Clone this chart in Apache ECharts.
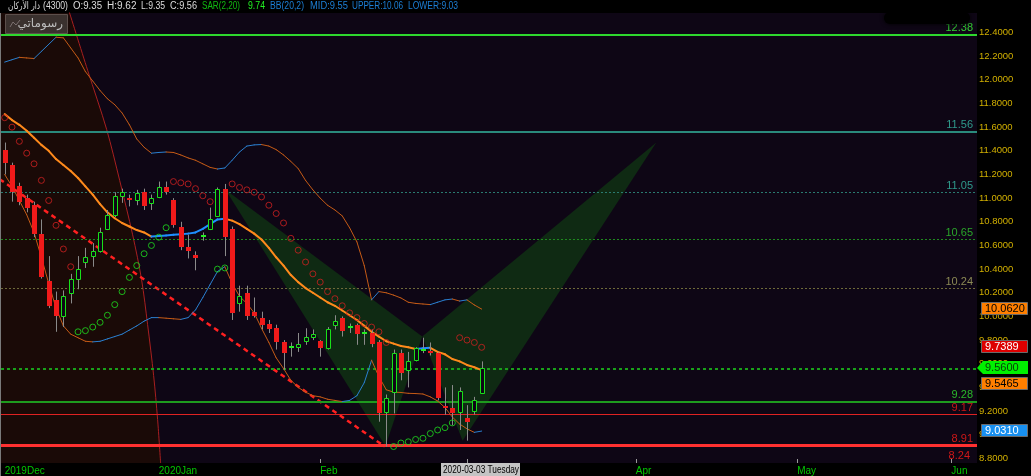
<!DOCTYPE html>
<html><head><meta charset="utf-8">
<script src="https://cdn.jsdelivr.net/npm/echarts@6/dist/echarts.min.js"></script>
<style>html,body{margin:0;padding:0;background:#000;overflow:hidden}#c{width:1031px;height:476px}</style>
</head><body><div id="c"></div>
<script>
// ---------- DATA ----------
const symbolName = 'دار الأركان';
const symbolCode = '4300';
const lastDateLabel = '2020-03-03 Tuesday';
const slotCount = 133;                      // trading-day slots Dec 3 2019 .. Jun 4 2020
const monthTickIdx = [0, 21, 43, 63, 86, 108, 129];
const monthTickLabels = ['2019Dec', '2020Jan', 'Feb', 'Mar', 'Apr', 'May', 'Jun'];
const yTicks = [8.8, 9.0, 9.2, 9.4, 9.6, 9.8, 10.0, 10.2, 10.4, 10.6, 10.8, 11.0, 11.2, 11.4, 11.6, 11.8, 12.0, 12.2, 12.4];

const open  = [11.41,11.28,11.10,11.00,10.94,10.70,10.30,10.14,10.00,10.20,10.32,10.46,10.51,10.55,10.74,10.86,11.02,11.00,10.98,11.05,10.96,11.01,11.09,10.98,10.76,10.59,10.52,10.68,10.74,10.85,11.08,10.74,10.11,10.20,10.04,9.99,9.94,9.90,9.78,9.73,9.74,9.79,9.83,9.79,9.73,9.93,9.99,9.91,9.93,9.86,9.86,9.78,9.19,9.36,9.69,9.55,9.63,9.72,9.71,9.69,9.24,9.23,9.19,9.14,9.20,9.35];
const high  = [11.47,11.30,11.13,11.03,10.97,10.82,10.51,10.21,10.22,10.36,10.51,10.58,10.62,10.75,10.90,11.05,11.08,11.03,11.07,11.08,11.03,11.14,11.14,11.00,10.80,10.69,10.55,10.71,10.92,11.09,11.12,10.76,10.26,10.26,10.16,10.04,9.97,9.93,9.80,9.78,9.86,9.90,9.89,9.80,9.91,10.01,10.00,9.94,9.94,9.89,9.89,9.80,9.34,9.72,9.72,9.70,9.74,9.82,9.78,9.70,9.40,9.42,9.40,9.25,9.32,9.62];
const low   = [11.20,10.97,10.94,10.88,10.67,10.32,10.07,9.87,9.91,10.11,10.23,10.41,10.42,10.54,10.73,10.84,10.96,10.93,10.94,10.90,10.90,11.00,11.03,10.75,10.56,10.49,10.39,10.64,10.73,10.84,10.51,9.97,10.04,9.97,9.99,9.89,9.86,9.72,9.55,9.66,9.70,9.76,9.80,9.66,9.72,9.89,9.83,9.86,9.76,9.76,9.74,9.11,8.90,9.18,9.46,9.40,9.62,9.69,9.67,9.29,9.17,9.08,9.04,8.95,9.17,9.35];
const close = [11.30,11.05,10.97,10.92,10.70,10.33,10.09,10.00,10.17,10.32,10.40,10.50,10.55,10.71,10.86,11.02,11.05,10.98,11.04,10.93,11.00,11.09,11.05,10.77,10.59,10.55,10.49,10.68,10.82,11.08,10.67,10.03,10.17,10.00,10.00,9.93,9.89,9.78,9.69,9.75,9.77,9.83,9.85,9.73,9.89,9.96,9.88,9.91,9.85,9.86,9.77,9.18,9.31,9.69,9.52,9.62,9.73,9.72,9.69,9.31,9.23,9.18,9.37,9.11,9.29,9.56];

const sar = [11.68,11.60,11.48,11.38,11.29,11.15,10.98,10.77,10.57,10.42,
  9.87,9.88,9.91,9.95,10.01,10.10,10.21,10.33,10.43,10.53,10.60,10.67,10.75,
  11.14,11.13,11.12,11.08,11.02,10.97,
  10.40,10.41,
  11.12,11.09,11.07,11.05,11.01,10.94,10.87,10.79,10.66,10.56,10.46,10.36,10.29,10.21,10.15,10.09,10.03,9.99,9.94,9.91,9.87,9.78,
  8.90,8.93,8.94,8.96,8.97,9.01,9.04,9.06,9.10,
  9.82,9.80,9.78,9.7389];

const bbMid = [11.71,11.66,11.62,11.57,11.51,11.45,11.40,11.33,11.28,11.23,
  11.17,11.10,11.03,10.95,10.88,10.83,10.79,10.76,10.73,10.71,
  10.675,10.68,10.685,10.69,10.695,10.70,10.71,10.74,10.78,10.82,
  10.825,10.81,10.78,10.74,10.70,10.65,10.58,10.50,10.43,10.35,
  10.29,10.24,10.20,10.16,10.12,10.09,10.05,10.01,9.97,9.92,
  9.87,9.83,9.79,9.77,9.75,9.74,9.725,9.73,9.735,9.70,
  9.68,9.64,9.62,9.59,9.57,9.5465];
const bbUpper = [12.15,12.17,12.19,12.185,12.18,12.24,12.30,12.36,12.355,12.27,
  12.185,12.07,11.99,11.91,11.84,11.79,11.72,11.62,11.50,11.43,
  11.38,11.386,11.39,11.386,11.365,11.34,11.32,11.29,11.26,11.246,
  11.255,11.32,11.39,11.44,11.45,11.453,11.44,11.41,11.365,11.31,
  11.25,11.15,11.07,11.00,10.94,10.90,10.85,10.75,10.63,10.43,
  10.14,10.21,10.20,10.18,10.156,10.12,10.11,10.105,10.10,10.12,
  10.14,10.147,10.13,10.14,10.097,10.062];
const bbLower = [11.20,11.10,10.98,10.86,10.71,10.50,10.28,10.07,9.92,9.85,
  9.82,9.79,9.785,9.79,9.81,9.83,9.85,9.885,9.92,9.96,
  9.99,9.99,9.985,9.98,9.975,9.99,10.055,10.16,10.27,10.38,
  10.42,10.28,10.17,10.11,10.03,9.90,9.78,9.65,9.56,9.46,
  9.40,9.36,9.33,9.32,9.30,9.29,9.28,9.29,9.33,9.44,
  9.63,9.49,9.38,9.36,9.357,9.35,9.348,9.344,9.32,9.285,
  9.23,9.15,9.09,9.05,9.02,9.031];

const levelValues = [12.38, 11.56, 11.05, 10.65, 10.24, 9.28, 9.17, 8.91];
const offscreenLevel = 8.24;
// drawings, in [slot index, price]
const trendLine = [[-0.68, 11.16], [51.8, 8.90]];
const arcLine = [[8.72,12.59],[11.31,12.08],[13.9,11.58],[15.67,11.15],[17.44,10.69],[18.66,10.31],[19.48,9.93],[20.3,9.5],[20.84,9.13],[21.25,8.76]];
const harmonicXABCD = [[30.1,11.07],[51.9,8.905],[56.9,9.83],[62.4,8.95],[88.8,11.47]];

// ---------- STYLES ----------
const levelStyles = [
  {color:'#2ed82e', width:2, type:'solid', label:'#33cc33'},
  {color:'#2a8a7c', width:2, type:'solid', label:'#2f9a8c'},
  {color:'#2a7a70', width:1, type:[2,2], label:'#2f9a8c'},
  {color:'#1f8a1f', width:1, type:[2,2], label:'#2aa52a'},
  {color:'#6e6a3a', width:1, type:[2,2], label:'#8c8a55'},
  {color:'#1e9a1e', width:2, type:'solid', label:'#2ab82a'},
  {color:'#e02222', width:1, type:'solid', label:'#c81818'},
  {color:'#ff3030', width:3, type:'solid', label:'#d01818'}
];
const PLOT_BG = '#0e0615';
const FONT = '"Liberation Sans", Arial, sans-serif';

const Y0 = 8.761, Y1 = 12.565;
const N = close.length, last = N - 1;
const cats = Array.from({length: slotCount}, (_, i) => String(i));
const labelMap = {};
monthTickIdx.forEach((k, j) => labelMap[k] = monthTickLabels[j]);

const candleData = close.map((c, i) => [i, open[i], c, low[i], high[i]]);
function segData(arr){ const r=[]; for(let i=0;i<arr.length-1;i++) r.push([i, arr[i], arr[i+1]]); return r; }
function segSeries(arr, width, up, down, z){
  return {type:'custom', xAxisIndex:1, yAxisIndex:0, z:z, clip:true, silent:true,
    data: segData(arr), encode:{x:0, y:[1,2]},
    renderItem:(p, api)=>{
      const i=api.value(0), a=api.value(1), b=api.value(2);
      const p1=api.coord([i,a]), p2=api.coord([i+1,b]);
      return {type:'line', shape:{x1:p1[0],y1:p1[1],x2:p2[0],y2:p2[1]},
        style:{stroke: b>=a?up:down, lineWidth:width, lineCap:'round'}};
    }};
}

const markData = levelValues.map((v, k) => ({
  yAxis: v,
  lineStyle: {color: levelStyles[k].color, width: levelStyles[k].width, type: levelStyles[k].type},
  label: {show:true, formatter: String(v), position:'insideEndTop', distance:[4,1], color: levelStyles[k].label, fontSize:11, fontFamily:FONT}
}));
markData.push({yAxis: close[last], lineStyle:{color:'#1aa01a', width:2, type:[3,3]}, label:{show:false}});

const option = {
  backgroundColor: '#000',
  animation: false,
  grid: {left:1, top:13, width:976, height:450, show:true, backgroundColor:PLOT_BG, borderWidth:0},
  xAxis: [
    {type:'category', data:cats, boundaryGap:true, axisLine:{show:false}, splitLine:{show:false},
     axisTick:{show:true, inside:true, length:4, alignWithLabel:true, interval:(i)=>(i in labelMap), lineStyle:{color:'#9a9a9a'}},
     axisLabel:{interval:(i)=>(i in labelMap), formatter:(v,i)=>labelMap[i]||'', color:'#00c800', fontSize:10, fontFamily:FONT, align:'left', margin:3}},
    {type:'value', min:-0.5, max:slotCount-0.5, show:false}
  ],
  yAxis: {type:'value', position:'right', min:Y0, max:Y1, splitLine:{show:false}, axisLine:{show:false},
    axisTick:{show:true, customValues:yTicks, length:5, lineStyle:{color:'#b4b4b4'}},
    axisLabel:{customValues:yTicks, formatter:(v)=>Number(v).toFixed(4), color:'#d2b000', fontSize:9.5, fontFamily:FONT, margin:2}},
  series: [
    {type:'custom', xAxisIndex:1, yAxisIndex:0, z:1, clip:true, silent:true, data:[[0]],
     renderItem:(p, api)=>{
       const pts=[api.coord([-0.5, arcLine[0][1]])].concat(arcLine.map(q=>api.coord(q))).concat([api.coord([-0.5, Y0-0.05])]);
       return {type:'polygon', shape:{points:pts}, style:{fill:'#1a0a07'}};
     }},
    {type:'custom', xAxisIndex:1, yAxisIndex:0, z:2, clip:true, silent:true, data:[[0],[1]],
     renderItem:(p, api)=>{
       const h=harmonicXABCD;
       const tri = p.dataIndex===0 ? [h[0],h[1],h[2]] : [h[2],h[3],h[4]];
       return {type:'polygon', shape:{points:tri.map(q=>api.coord(q))}, style:{fill:'#0f2a13'}};
     }},
    {type:'line', xAxisIndex:1, yAxisIndex:0, z:3, data:[], silent:true,
     markLine:{silent:true, symbol:['none','none'], animation:false, data:markData}},
    {type:'line', xAxisIndex:1, yAxisIndex:0, z:4, data:arcLine, smooth:0.3, symbol:'none', silent:true,
     lineStyle:{color:'#a82020', width:1}},
    {type:'line', xAxisIndex:1, yAxisIndex:0, z:4, data:trendLine, symbol:'none', silent:true,
     lineStyle:{color:'#ff2020', width:2.5, type:[5,4]}},
    segSeries(bbUpper, 1, '#2a7fd0', '#c45a16', 5),
    segSeries(bbLower, 1, '#2a7fd0', '#c45a16', 5),
    segSeries(bbMid, 2, '#1e8fff', '#ff8a1c', 6),
    {type:'custom', xAxisIndex:1, yAxisIndex:0, z:8, clip:true, silent:true, data:candleData, encode:{x:0, y:[1,2,3,4]},
     renderItem:(p, api)=>{
       const i=api.value(0), o=api.value(1), c=api.value(2), l=api.value(3), h=api.value(4);
       const pO=api.coord([i,o]), pC=api.coord([i,c]), pL=api.coord([i,l]), pH=api.coord([i,h]);
       const x=Math.round(pO[0]);
       const ch=[{type:'line', shape:{x1:x+0.5,y1:pH[1],x2:x+0.5,y2:pL[1]}, style:{stroke:'#8a8a8a', lineWidth:1}}];
       const top=Math.round(Math.min(pO[1],pC[1])), bot=Math.round(Math.max(pO[1],pC[1]));
       if (Math.abs(c-o) < 0.001) {
         ch.push({type:'rect', shape:{x:x-2, y:top-1, width:5, height:2}, style:{fill:'#22ee22'}});
       } else if (c > o) {
         if (bot-top < 3) ch.push({type:'rect', shape:{x:x-2, y:top, width:5, height:Math.max(2,bot-top)}, style:{fill:'#22ee22'}});
         else ch.push({type:'rect', shape:{x:x-1.5, y:top+0.5, width:4, height:bot-top}, style:{fill:PLOT_BG, stroke:'#19e019', lineWidth:1}});
       } else {
         ch.push({type:'rect', shape:{x:x-2, y:top, width:5, height:Math.max(2,bot-top)}, style:{fill:'#f01a1a'}});
       }
       return {type:'group', children:ch};
     }},
    {type:'scatter', xAxisIndex:1, yAxisIndex:0, z:9, silent:true, symbol:'circle', symbolSize:6,
     data: sar.map((v,i)=>[i,v]).filter(d=>d[1]>close[d[0]]),
     itemStyle:{color:'rgba(0,0,0,0)', borderColor:'#d02020', borderWidth:1}},
    {type:'scatter', xAxisIndex:1, yAxisIndex:0, z:9, silent:true, symbol:'circle', symbolSize:6,
     data: sar.map((v,i)=>[i,v]).filter(d=>d[1]<=close[d[0]]),
     itemStyle:{color:'rgba(0,0,0,0)', borderColor:'#1ee01e', borderWidth:1}}
  ]
};

const chart = echarts.init(document.getElementById('c'), null, {renderer:'canvas', width:1031, height:476});
chart.setOption(option);

const py = v => chart.convertToPixel({yAxisIndex:0}, v);
const px = i => chart.convertToPixel({xAxisIndex:1}, i);
const measure = (t, f) => (echarts.format && echarts.format.getTextRect) ? echarts.format.getTextRect(t, f).width : t.length * 5.5;
const g = [];

// fitted text: scaled horizontally so that it takes the given width at most
function fitText(t, x, y, w, color, font, z){
  const mw = measure(t, font);
  const s = Math.min(1, w / mw);
  g.push({type:'text', z:z||100, x:x, y:y, scaleX:s, style:{text:t, fill:color, font:font, verticalAlign:'middle', align:'left'}});
}

// header line (slot x / width of each item)
const hf = '10px ' + FONT;
const header = [
  {t: symbolName, x: 8, w: 32, c:'#dcdcdc', f:'10px "DejaVu Sans", sans-serif'},
  {t: '(' + symbolCode + ')', x: 43, w: 25, c:'#dcdcdc'},
  {t: 'O:' + open[last].toFixed(2), x: 73, w: 29, c:'#dcdcdc'},
  {t: 'H:' + high[last].toFixed(2), x: 107, w: 30, c:'#dcdcdc'},
  {t: 'L:' + low[last].toFixed(2), x: 141, w: 24, c:'#dcdcdc'},
  {t: 'C:' + close[last].toFixed(2), x: 170, w: 27, c:'#dcdcdc'},
  {t: 'SAR(2,20)', x: 202, w: 38, c:'#10b810'},
  {t: sar[last].toFixed(2), x: 248, w: 17, c:'#22ee22'},
  {t: 'BB(20,2)', x: 270, w: 34, c:'#1c7fd6'},
  {t: 'MID:' + bbMid[last].toFixed(2), x: 310, w: 38, c:'#1c7fd6'},
  {t: 'UPPER:' + bbUpper[last].toFixed(2), x: 352, w: 51, c:'#1c7fd6'},
  {t: 'LOWER:' + bbLower[last].toFixed(2), x: 408, w: 50, c:'#1c7fd6'}
];
header.forEach(h => fitText(h.t, h.x, 6.5, h.w, h.c, h.f || hf));

// right-axis value tags
const tags = [
  {v:bbUpper[last], bg:'#ff7f00', fg:'#000', dy:0},
  {v:sar[last],     bg:'#dd0000', fg:'#fff', dy:0},
  {v:close[last],   bg:'#00f000', fg:'#0a3a0a', dy:0, arrow:true},
  {v:bbMid[last],   bg:'#ff7f00', fg:'#000', dy:14},
  {v:bbLower[last], bg:'#1890f0', fg:'#fff', dy:0}
];
tags.forEach(t=>{
  const y = Math.round(py(t.v)) + t.dy;
  if (t.arrow) g.push({type:'polygon', z:100, shape:{points:[[977,y],[983,y-7],[1028,y-7],[1028,y+6],[983,y+6]]}, style:{fill:t.bg}});
  else g.push({type:'rect', z:100, shape:{x:981.5, y:y-6.5, width:46, height:12}, style:{fill:t.bg, stroke:'#6a6a6a', lineWidth:1}});
  g.push({type:'text', z:101, x:985, y:y, style:{text:t.v.toFixed(4), fill:t.fg, font:'11px '+FONT, verticalAlign:'middle', align:'left'}});
});
g.push({type:'text', z:50, x:970, y:Math.round(py(Y0))-7, style:{text:offscreenLevel.toFixed(2), fill:'#d01818', font:'11px '+FONT, align:'right', verticalAlign:'middle'}});

// crosshair date box
const cx = Math.round(px(last));
g.push({type:'rect', z:100, shape:{x:cx-41, y:463, width:79, height:13}, style:{fill:'#c4c4c4'}});
fitText(lastDateLabel, cx-39, 470, 76, '#000', '10px ' + FONT, 101);

// drawings button
g.push({type:'rect', z:100, shape:{x:5.5, y:14.5, width:62, height:19}, style:{fill:'#3a312e', stroke:'#5c4f4b', lineWidth:1}});
g.push({type:'polyline', z:101, shape:{points:[[10,27],[13,22],[16,25],[20,20]]}, style:{stroke:'#7a7070', lineWidth:1, fill:null}});
g.push({type:'text', z:101, x:63, y:24, style:{text:'رسوماتي', fill:'#bdbdbd', font:'12px "DejaVu Sans", sans-serif', align:'right', verticalAlign:'middle'}});
// redaction blob top right
g.push({type:'rect', z:100, shape:{x:884, y:12, width:86, height:12, r:6}, style:{fill:'#000', shadowBlur:4, shadowColor:'#000'}});
// window left border
g.push({type:'line', z:100, shape:{x1:0.5, y1:13, x2:0.5, y2:476}, style:{stroke:'#7a7a7a', lineWidth:1}});
chart.setOption({graphic: g});
</script>
</body></html>
